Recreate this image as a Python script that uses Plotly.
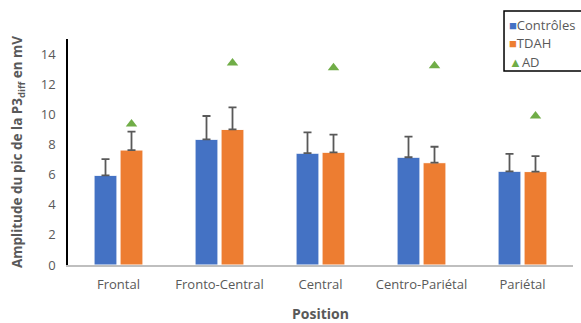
import plotly.graph_objects as go

categories = ["Frontal", "Fronto-Central", "Central", "Centro-Pariétal", "Pariétal"]
controles = [5.95, 8.34, 7.42, 7.15, 6.22]
controles_err = [1.08, 1.55, 1.38, 1.37, 1.15]
tdah = [7.63, 9.0, 7.48, 6.79, 6.2]
tdah_err = [1.22, 1.46, 1.17, 1.06, 1.03]
ad = [9.36, 13.4, 13.1, 13.22, 9.89]

series_names = ["Contrôles", "TDAH", "AD"]
series_colors = ["#4472C4", "#ED7D31", "#70AD47"]
series_symbols = ["■", "■", "▲"]

gray = "#595959"
fig = go.Figure()
fig.add_trace(go.Bar(
    x=categories, y=controles, name=series_names[0], offsetgroup="c",
    marker=dict(color=series_colors[0], line=dict(color="white", width=1)),
    error_y=dict(type="data", array=controles_err, arrayminus=[0]*5, symmetric=False,
                 color=gray, thickness=1.8, width=4),
))
fig.add_trace(go.Bar(
    x=categories, y=tdah, name=series_names[1], offsetgroup="t",
    marker=dict(color=series_colors[1], line=dict(color="white", width=1)),
    error_y=dict(type="data", array=tdah_err, arrayminus=[0]*5, symmetric=False,
                 color=gray, thickness=1.8, width=4),
))
fig.add_trace(go.Scatter(
    x=categories, y=ad, name=series_names[2], mode="markers", offsetgroup="t",
    marker=dict(symbol="triangle-up", color=series_colors[2], size=10),
))

# Legend drawn as a framed box with text entries (as in the reference)
fig.add_shape(type="rect", xref="paper", yref="paper",
              x0=0.8634, x1=1.05, y0=0.8584, y1=1.1239,
              line=dict(color="black", width=1.5), fillcolor="white", layer="above")
legend_y = [1.062, 0.982, 0.898]
for name, col, sym, yy in zip(series_names, series_colors, series_symbols, legend_y):
    fig.add_annotation(
        xref="paper", yref="paper", x=0.869, y=yy, xanchor="left", yanchor="middle",
        text=f"<span style='color:{col};font-size:13px'>{sym}</span>{name}",
        showarrow=False, font=dict(size=13, color=gray, family="Open Sans"),
    )

fig.update_layout(
    width=581, height=323,
    margin=dict(l=68, r=8, t=39, b=58, autoexpand=False),
    plot_bgcolor="white", paper_bgcolor="white",
    barmode="group", scattermode="group",
    bargap=0.485, bargroupgap=0.12,
    font=dict(family="Open Sans", size=13, color=gray),
    showlegend=False,
    xaxis=dict(
        title=dict(text="<b>Position</b>", font=dict(size=14, color=gray), standoff=17),
        showline=True, linecolor="#BFBFBF", linewidth=1.5,
        ticks="", tickfont=dict(size=13, color=gray), ticklabelstandoff=7,
    ),
    yaxis=dict(
        title=dict(text="<b>Amplitude du pic de la P3<sub>diff</sub> en mV</b>",
                   font=dict(size=13.5, color=gray), standoff=15),
        range=[0, 15], dtick=2, tick0=0,
        showline=True, linecolor="black", linewidth=1.5,
        showgrid=False, zeroline=False, ticks="",
        tickfont=dict(size=13, color=gray), ticklabelstandoff=8,
    ),
)
fig.write_html("out.html", config={"displayModeBar": False},
               post_script="document.body.style.margin='0px';document.body.style.overflow='hidden';")
